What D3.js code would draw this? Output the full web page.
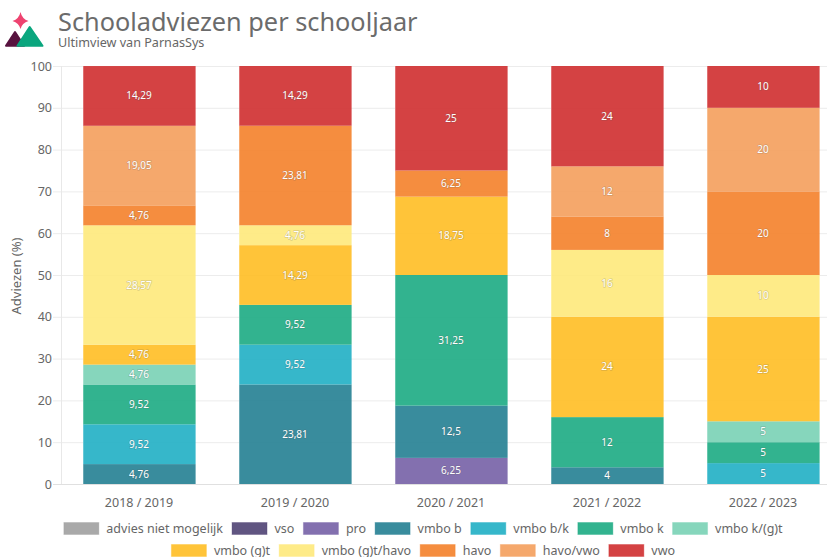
<!DOCTYPE html>
<html><head><meta charset="utf-8">
<script src="https://cdnjs.cloudflare.com/ajax/libs/d3/7.8.5/d3.min.js"></script>
<style>html,body{margin:0;padding:0;background:#fff;overflow:hidden}svg{display:block}text{font-family:"Noto Sans",sans-serif}</style>
</head><body><svg id="c" width="827" height="557"></svg>
<script>
const years=["2018 / 2019","2019 / 2020","2020 / 2021","2021 / 2022","2022 / 2023"];
const categories=["advies niet mogelijk","vso","pro","vmbo b","vmbo b/k","vmbo k","vmbo k/(g)t","vmbo (g)t","vmbo (g)t/havo","havo","havo/vwo","vwo"];
const colors=["#a0a0a0","#4f4273","#7560a6","#237f92","#20afc4","#1cab83","#79d2b5","#ffbe23","#fee97b","#f4812a","#f49e5c","#cf2d2f"];
const advNietMogelijk=[0,0,0,0,0];
const vso=[0,0,0,0,0];
const pro=[0,0,6.25,0,0];
const vmboB=[4.76,23.81,12.5,4,0];
const vmboBK=[9.52,9.52,0,0,5];
const vmboK=[9.52,9.52,31.25,12,5];
const vmboKGT=[4.76,0,0,0,5];
const vmboGT=[4.76,14.29,18.75,24,25];
const vmboGTHavo=[28.57,4.76,0,16,10];
const havo=[4.76,23.81,6.25,8,20];
const havoVwo=[19.05,0,0,12,20];
const vwo=[14.29,14.29,25,24,10];
const series=[advNietMogelijk,vso,pro,vmboB,vmboBK,vmboK,vmboKGT,vmboGT,vmboGTHavo,havo,havoVwo,vwo];
const yTicks=d3.range(0,101,10);

const svg=d3.select("#c");
const x=d3.scaleBand().domain(years).range([61,841]).paddingInner(44/156).paddingOuter(22/156);
const y=d3.scaleLinear().domain([0,100]).range([484,66]);

// logo
const logo=svg.append("g").attr("stroke-linejoin","round").attr("stroke-width",2);
logo.append("path").attr("d","M20.5 12 Q22 19 28.5 21 Q22 23 20.5 29 Q19 23 12.5 21 Q19 19 20.5 12Z").attr("fill","#ee4370");
logo.append("path").attr("d","M6 45.8 L15 32 L24 45.8Z").attr("fill","#58133f").attr("stroke","#58133f");
logo.append("path").attr("d","M17.5 45.8 L29.7 27 L42.5 45.8Z").attr("fill","#0aa67e").attr("stroke","#0aa67e");

svg.append("text").attr("x",58).attr("y",31).attr("font-size",25.3).attr("fill","#6b6b6b").text("Schooladviezen per schooljaar");
svg.append("text").attr("x",58).attr("y",47).attr("font-size",12.6).attr("fill","#666").text("Ultimview van ParnasSys");

// grid
const gy=svg.append("g").attr("transform","translate(61,0)")
 .call(d3.axisLeft(y).tickValues(yTicks).tickSize(-780).tickPadding(9));
gy.select(".domain").remove();
gy.selectAll("line").attr("stroke","#ececec").attr("x1",-8);
gy.selectAll("text").attr("font-size",12.5).attr("fill","#666");
svg.append("line").attr("x1",61.5).attr("x2",61.5).attr("y1",66).attr("y2",484).attr("stroke","#e8e8e8");
svg.append("line").attr("x1",53).attr("x2",827).attr("y1",484.5).attr("y2",484.5).attr("stroke","#e0e0e0").attr("stroke-width",1);

svg.append("text").attr("transform","translate(20.5,276) rotate(-90)").attr("text-anchor","middle").attr("font-size",13).attr("fill","#666").text("Adviezen (%)");

// stacked bars
const table=years.map((yr,i)=>{const o={year:yr};categories.forEach((c,j)=>o[c]=series[j][i]);return o;});
const stacked=d3.stack().keys(categories)(table);
const fmt=v=>String(v).replace(".",",");
stacked.forEach((layer,j)=>{
  const g=svg.append("g");
  layer.forEach(d=>{
    const v=d[1]-d[0]; if(v<=0) return;
    const x0=x(d.data.year), bw=x.bandwidth();
    g.append("rect").attr("x",x0).attr("width",bw)
      .attr("y",y(d[1])).attr("height",y(d[0])-y(d[1]))
      .attr("fill",colors[j]).attr("fill-opacity",.9);
    // lighter 1px side edges
    g.append("line").attr("x1",x0+.5).attr("x2",x0+.5).attr("y1",y(d[1])).attr("y2",y(d[0]))
      .attr("stroke","#fff").attr("stroke-opacity",.25);
    g.append("line").attr("x1",x0+bw+.5).attr("x2",x0+bw+.5).attr("y1",y(d[1])).attr("y2",y(d[0]))
      .attr("stroke",colors[j]).attr("stroke-opacity",.55);
  });
});
stacked.forEach((layer,j)=>{
  layer.forEach(d=>{
    const v=+(d.data[categories[j]]); if(v<=0) return;
    svg.append("text").attr("x",x(d.data.year)+x.bandwidth()/2).attr("y",(y(d[0])+y(d[1]))/2+3.5)
      .attr("text-anchor","middle").attr("font-size",10).attr("fill","#fff")
      .attr("stroke","#555").attr("stroke-opacity",.22).attr("stroke-width",1.4).attr("paint-order","stroke")
      .text(fmt(v));
  });
});

// x labels
const gx=svg.append("g").attr("transform","translate(0,484)").call(d3.axisBottom(x).tickSize(0).tickPadding(14));
gx.select(".domain").remove();
gx.selectAll("text").attr("font-size",12.5).attr("fill","#666");

// legend
const rows=[categories.slice(0,7),categories.slice(7)];
const rowY=[522,544];
const ctx=document.createElement("canvas").getContext("2d");
ctx.font='12.5px "Noto Sans"';
rows.forEach((r,ri)=>{
  const w=r.map(c=>36+7+ctx.measureText(c).width);
  const total=d3.sum(w)+(r.length-1)*8.5;
  let cx=423-total/2;
  r.forEach((c,k)=>{
    const col=colors[categories.indexOf(c)];
    svg.append("rect").attr("x",cx+.5).attr("y",rowY[ri]+.5).attr("width",35).attr("height",12)
      .attr("fill",col).attr("fill-opacity",.9).attr("stroke",col).attr("stroke-opacity",.35);
    svg.append("text").attr("x",cx+43).attr("y",rowY[ri]+11).attr("font-size",12.5).attr("fill","#666").text(c);
    cx+=w[k]+8.5;
  });
});
</script></body></html>
